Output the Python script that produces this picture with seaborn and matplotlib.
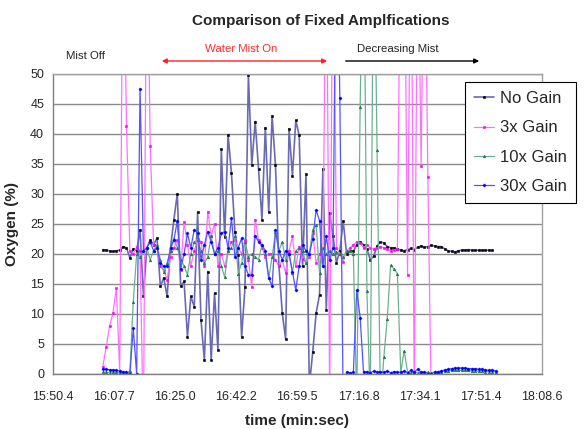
import numpy as np
import pandas as pd
import matplotlib
matplotlib.use('Agg')
import matplotlib.pyplot as plt
import seaborn as sns

# Logger sampling (seconds, shown on the axis as min:sec)
t_start = 964.6
sample_period = 0.956

# Oxygen readings (%) for each amplification setting
no_gain = [20.7, 20.6, 20.5, 20.4, 20.5, 20.6, 21.2, 21.0, 19.3, 20.8,
           20.5, 24.0, 13.0, 21.0, 22.3, 21.5, 22.6, 14.6, 16.0, 12.9,
           21.0, 25.7, 30.0, 14.6, 15.4, 6.2, 12.9, 11.2, 26.9, 9.0,
           2.3, 17.0, 2.3, 13.4, 4.0, 37.4, 22.8, 39.8, 33.4, 23.7,
           19.8, 6.2, 14.5, 49.8, 34.8, 42.0, 34.1, 25.7, 41.0, 27.0,
           42.9, 34.7, 18.2, 10.1, 5.8, 40.8, 33.0, 42.2, 39.7, 17.9,
           33.2, -2.0, 3.7, 10.1, 13.2, 34.1, 10.7, 26.8, 22.9, 18.5,
           20.5, 25.4, 20.0, 20.5, 20.4, 21.5, 22.0, 21.5, 20.8, 19.0,
           19.6, 21.3, 22.0, 21.8, 21.2, 21.0, 21.0, 20.8, 20.6, 20.5,
           20.7, 20.9, 20.7, 21.1, 21.3, 21.1, 21.2, 21.4, 21.3, 21.2,
           21.2, 20.8, 20.5, 20.4, 20.3, 20.5, 20.6, 20.6, 20.7, 20.6,
           20.6, 20.6, 20.6, 20.6, 20.6, 20.6, np.nan]

gain_3x = [1.2, 4.5, 8.0, 10.1, 14.3, 0.2, 80, 41.2, 20.5, 20.0,
           21.2, 20.5, -10, 80, 38.0, 21.5, 21.0, 17.9, 17.3, 15.7,
           19.5, 21.0, 22.3, 17.3, 25.3, 21.5, 18.0, 20.5, 22.5, 22.0,
           17.9, 27.0, 23.0, 25.0, 18.0, 20.0, 17.9, 20.5, 22.0, 22.3,
           21.0, 20.0, 22.3, 19.0, 14.4, 25.7, 22.3, 21.0, 19.5, 20.0,
           20.0, 19.0, 17.9, 19.0, 16.8, 20.5, 22.9, 17.9, 21.2, 19.2,
           18.5, 19.5, 23.4, 18.5, 20.0, 17.9, 80, -5, 80, 21.0,
           20.0, 18.7, 20.5, 21.0, 21.5, 22.0, 21.8, 21.0, 21.5, 21.0,
           20.8, 21.0, 21.2, 21.0, 20.8, 20.5, 20.6, 20.8, 80, 80,
           16.4, 80, -5, 80, 34.6, 80, 32.7, -5, -5, -5,
           -5, -5, -5, -5, -5, -5, -5, -5, -5, -5,
           -5, -5, -5, -5, -5, -5, -5]

gain_10x = [0.3, 0.3, 0.2, 0.3, 0.3, 0.2, 0.2, 0.1, 0.5, 12.0,
            20.0, 19.5, 20.5, 21.0, 19.0, 20.5, 21.5, 19.0, 17.0, 18.5,
            20.5, 22.5, 21.0, 19.0, 18.0, 16.5, 20.0, 22.0, 22.3, 20.5,
            18.4, 19.5, 23.0, 20.0, 20.5, 18.0, 16.1, 20.5, 21.0, 22.9,
            16.7, 18.5, 22.0, 19.5, 20.0, 19.5, 19.0, 21.5, 20.0, 15.9,
            19.5, 23.6, 20.5, 22.0, 19.0, 20.0, 16.8, 20.5, 21.0, 20.5,
            18.5, 20.0, 24.0, 24.8, 16.8, 21.0, 20.0, 20.5, 20.0, 20.3,
            20.0, 19.5, 20.5, 20.5, 20.0, -5, 44.4, 80, 13.8, -5,
            80, 37.2, -5, 2.8, 9.2, 18.1, 17.5, 16.7, 0.2, 3.9,
            0.3, 0.2, 0.3, 0.2, 0.3, 0.2, 0.3, 0.2, 0.3, 0.3,
            0.4, 0.5, 0.5, 0.6, 0.6, 0.6, 0.6, 0.6, 0.6, 0.5,
            0.5, 0.5, 0.5, 0.4, 0.4, 0.4, 0.3]

gain_30x = [0.8, 0.8, 0.7, 0.7, 0.6, 0.5, 0.4, 0.3, 0.0, 7.6,
            0.0, 47.5, 20.5, 21.0, 22.0, 20.5, 21.0, 18.5, 17.9, 18.0,
            21.0, 22.3, 25.5, 17.5, 20.0, 23.4, 21.0, 24.0, 23.5, 19.0,
            21.5, 23.7, 22.0, 20.0, 21.0, 23.4, 23.7, 21.0, 25.9, 19.5,
            21.0, 22.6, 18.0, 16.5, 16.5, 23.0, 22.0, 21.5, 20.5, 16.0,
            14.6, 24.0, 20.5, 19.0, 20.5, 20.0, 17.0, 14.0, 18.0, 21.5,
            20.5, 20.0, 22.5, 27.3, 25.5, 18.0, 22.9, 19.0, 21.0, 80,
            46.0, -5, 0.3, 0.2, 0.3, 13.9, 9.4, 0.3, 0.4, 0.2,
            0.5, 0.3, 0.4, 0.3, 0.5, 0.2, 0.4, 0.3, 0.3, 0.5,
            0.2, 0.6, 0.3, 0.8, 0.3, 0.4, 0.0, 0.0, 0.3, 0.4,
            0.5, 0.7, 0.8, 0.9, 1.0, 1.0, 1.0, 1.0, 0.9, 0.9,
            0.9, 0.8, 0.8, 0.7, 0.6, 0.6, 0.5]

series_names = ['No Gain', '3x Gain', '10x Gain', '30x Gain']

tick_seconds = [950.4, 967.675, 984.95, 1002.225, 1019.5,
                1036.775, 1054.05, 1071.325, 1088.6]
tick_labels = ['15:50.4', '16:07.7', '16:25.0', '16:42.2', '16:59.5',
               '17:16.8', '17:34.1', '17:51.4', '18:08.6']

# Long-form table
t = t_start + sample_period * np.arange(len(no_gain))
wide = pd.DataFrame({'t': t, 'No Gain': no_gain, '3x Gain': gain_3x,
                     '10x Gain': gain_10x, '30x Gain': gain_30x})
long = wide.melt(id_vars='t', var_name='series', value_name='oxygen')

styles = {
    'No Gain': dict(color='#6a6ab4', lw=1.2, marker='s', ms=2.0, mfc='black', mec='black'),
    '3x Gain': dict(color='#ff70ff', lw=0.9, marker='s', ms=1.7, mfc='#ff00ff', mec='#ff00ff'),
    '10x Gain': dict(color='#6cb092', lw=0.9, marker='^', ms=1.9, mfc='#1f7a4d', mec='#1f7a4d'),
    '30x Gain': dict(color='#5252ff', lw=0.9, marker='D', ms=1.6, mfc='#0000ff', mec='#0000ff'),
}

sns.set_style('white')
plt.rcParams['font.family'] = ['Liberation Sans', 'DejaVu Sans']

fig = plt.figure(figsize=(5.85, 4.29), dpi=100)
ax = fig.add_axes([52.5 / 585, 1 - 374 / 429, 489.5 / 585, 300.5 / 429])

for name in series_names:
    sns.lineplot(data=long[long['series'] == name], x='t', y='oxygen',
                 estimator=None, errorbar=None, legend=False, label=name,
                 mew=0.4, ax=ax, **styles[name])

ax.set_xlim(950.4, 1088.6)
ax.set_ylim(0, 50)
ax.set_yticks(range(0, 51, 5))
ax.set_xticks(tick_seconds)
ax.set_xticklabels(tick_labels)
ax.yaxis.grid(True, color='#8a8a8a', lw=1.0)
ax.xaxis.grid(False)
ax.set_axisbelow(True)

for side in ['left', 'bottom']:
    ax.spines[side].set_color('#7f7f7f')
    ax.spines[side].set_linewidth(1.0)
for side in ['top', 'right']:
    ax.spines[side].set_color('#a0a0a0')
    ax.spines[side].set_linewidth(1.0)

ax.tick_params(axis='x', direction='out', length=2.5, width=1, color='#7f7f7f',
               pad=10, labelsize=9)
ax.tick_params(axis='y', direction='out', length=3, width=1, color='#7f7f7f',
               pad=3, labelsize=9)

ax.set_xlabel('time (min:sec)', fontsize=11, fontweight='bold', labelpad=8)
ax.set_ylabel('Oxygen (%)', fontsize=11, fontweight='bold', labelpad=8)

# Title and mist phase annotations
fig.text(321 / 585, 1 - 21 / 429, 'Comparison of Fixed Amplfications',
         ha='center', va='center', fontsize=11, fontweight='bold')
fig.text(86 / 585, 1 - 56 / 429, 'Mist Off', ha='center', va='center',
         fontsize=8.2, color='#222222')
fig.text(241 / 585, 1 - 48.5 / 429, 'Water Mist On', ha='center', va='center',
         fontsize=8.2, color='#ff2a2a')
fig.text(398 / 585, 1 - 48.5 / 429, 'Decreasing Mist', ha='center', va='center',
         fontsize=8.2, color='#222222')
fig.add_artist(matplotlib.patches.FancyArrowPatch(
    (159 / 585, 1 - 61 / 429), (330 / 585, 1 - 61 / 429),
    transform=fig.transFigure, arrowstyle='<|-|>', mutation_scale=7,
    color='#ff2020', lw=1.0))
fig.add_artist(matplotlib.patches.FancyArrowPatch(
    (343 / 585, 1 - 61 / 429), (482 / 585, 1 - 61 / 429),
    transform=fig.transFigure, arrowstyle='-|>', mutation_scale=7,
    color='black', lw=1.0))

handles, labels = ax.get_legend_handles_labels()
leg = fig.legend(handles, labels, loc='upper left',
                 bbox_to_anchor=(465 / 585, 1 - 82 / 429), borderaxespad=0,
                 fontsize=12, frameon=True, fancybox=False, framealpha=1,
                 edgecolor='black', borderpad=0.55, labelspacing=0.85,
                 handlelength=1.2, handletextpad=0.35)
leg.get_frame().set_linewidth(0.8)

fig.savefig('out.png', dpi=100)
